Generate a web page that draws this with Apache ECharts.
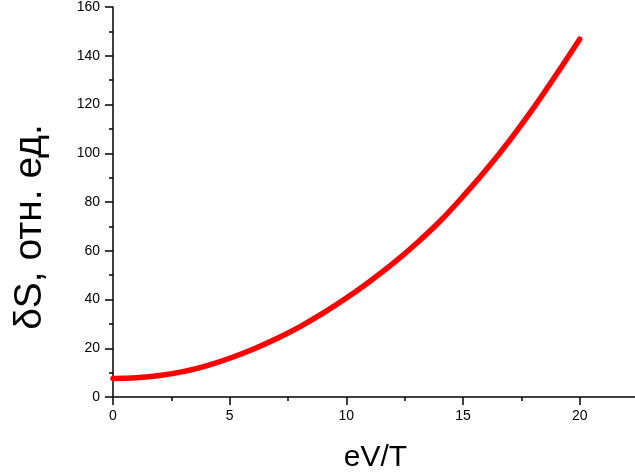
<!DOCTYPE html>
<html lang="ru">
<head>
    <meta charset="utf-8">
    <title>dS vs eV/T</title>
    <script src="https://cdn.jsdelivr.net/npm/echarts@6/dist/echarts.min.js"></script>
    <style>
        html, body { margin: 0; padding: 0; background: #fff; }
        #main { width: 635px; height: 472px; }
    </style>
</head>
<body>
    <div id="main"></div>
    <script type="text/javascript">
    // данные
    var xValues = [0, 1, 2, 3, 4, 5, 6, 7, 8, 9, 10, 11, 12, 13, 14, 15, 16, 17, 18, 19, 20];
    var dS = [7.6, 7.9, 8.8, 10.4, 12.8, 15.9, 19.6, 23.9, 28.8, 34.4, 40.6, 47.4, 54.8, 63, 72, 82.3, 93.3, 105.3, 118.3, 132.3, 146.8];
    var yTicks = [0, 20, 40, 60, 80, 100, 120, 140, 160];
    var xName = 'eV/T';
    var yName = 'δS, отн. ед.';

    var points = xValues.map(function (x, i) { return [x, dS[i]]; });
    var font = '"Liberation Sans", Arial, sans-serif';

    var myChart = echarts.init(document.getElementById('main'));

    myChart.setOption({
        animation: false,
        grid: { left: 113, right: -3, top: 7, bottom: 75, outerBoundsMode: 'none', containLabel: false },
        xAxis: {
            type: 'value',
            min: 0,
            max: 22.5,
            interval: 5,
            name: xName,
            nameLocation: 'middle',
            nameGap: 46,
            nameTextStyle: { fontSize: 30, color: '#000', fontFamily: font },
            axisLine: { onZero: false, lineStyle: { color: '#000', width: 1.5 } },
            axisTick: { length: 8, lineStyle: { color: '#000', width: 1.5 } },
            minorTick: { show: true, splitNumber: 2, length: 4, lineStyle: { color: '#000', width: 1.5 } },
            axisLabel: {
                margin: 12, fontSize: 14, color: '#000', fontFamily: font,
                formatter: function (v) { return v % 5 === 0 && v <= 20 ? String(v) : ''; }
            },
            splitLine: { show: false }
        },
        yAxis: {
            type: 'value',
            min: yTicks[0],
            max: yTicks[yTicks.length - 1],
            interval: 20,
            axisLine: { show: true, lineStyle: { color: '#000', width: 1.5 } },
            axisTick: { show: true, length: 8, lineStyle: { color: '#000', width: 1.5 } },
            minorTick: { show: true, splitNumber: 2, length: 4, lineStyle: { color: '#000', width: 1.5 } },
            axisLabel: { margin: 13, fontSize: 14, color: '#000', fontFamily: font },
            splitLine: { show: false }
        },
        graphic: [{
            type: 'text',
            x: 30,
            y: 227,
            rotation: Math.PI / 2,
            style: {
                text: yName,
                fontSize: 39,
                fontFamily: font,
                fill: '#000',
                align: 'center',
                verticalAlign: 'middle'
            }
        }],
        series: [{
            type: 'line',
            data: points,
            smooth: 0.35,
            showSymbol: false,
            lineStyle: { color: '#ff0000', width: 5.5, cap: 'round' }
        }]
    });
    </script>
</body>
</html>
